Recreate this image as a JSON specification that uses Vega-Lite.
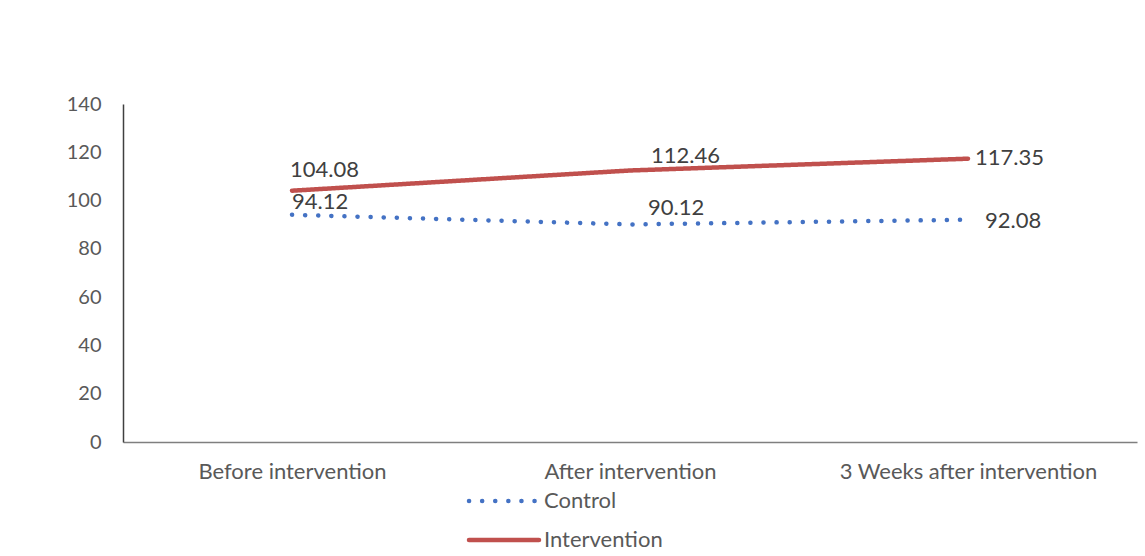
{
  "$schema": "https://vega.github.io/schema/vega-lite/v6.json",
  "autosize": {"type": "none"},
  "width": 1014,
  "height": 338,
  "padding": {"left": 123, "top": 104, "right": 8, "bottom": 114},
  "background": "white",
  "config": {
    "view": {"stroke": null},
    "font": "Lato",
    "axis": {"labelFont": "Lato", "labelColor": "#595959", "labelFontSize": 20, "grid": false, "ticks": false, "title": null}
  },
  "data": {
    "values": [
      {"time": "Before intervention", "group": "Control", "value": 94.12},
      {"time": "After intervention", "group": "Control", "value": 90.12},
      {"time": "3 Weeks after intervention", "group": "Control", "value": 92.08},
      {"time": "Before intervention", "group": "Intervention", "value": 104.08},
      {"time": "After intervention", "group": "Intervention", "value": 112.46},
      {"time": "3 Weeks after intervention", "group": "Intervention", "value": 117.35}
    ]
  },
  "encoding": {
    "x": {
      "field": "time", "type": "nominal",
      "sort": ["Before intervention", "After intervention", "3 Weeks after intervention"],
      "scale": {"type": "point", "padding": 0.5},
      "axis": {"labelAngle": 0, "labelFontSize": 22, "labelLimit": 400, "domainColor": "#7f7f7f", "domainWidth": 1.5, "labelPadding": 19}
    },
    "y": {
      "field": "value", "type": "quantitative",
      "scale": {"domain": [0, 140], "nice": false},
      "axis": {"values": [0, 20, 40, 60, 80, 100, 120, 140], "domainColor": "#404040", "domainWidth": 1.5, "labelPadding": 22}
    }
  },
  "layer": [
    {
      "mark": {"type": "line", "strokeWidth": 4.5, "strokeCap": "round"},
      "encoding": {
        "color": {
          "field": "group", "type": "nominal",
          "scale": {"domain": ["Control", "Intervention"], "range": ["#4472C4", "#C0504D"]},
          "legend": {
            "title": null, "orient": "none", "direction": "vertical",
            "legendX": 370, "legendY": 386,
            "symbolType": "M-5,0H5", "symbolSize": 196, "symbolStrokeWidth": 4.5,
            "labelFont": "Lato", "labelFontSize": 22, "labelColor": "#595959",
            "labelOffset": 29, "rowPadding": 17,
            "encode": {"symbols": {"update": {"strokeCap": {"value": "round"}, "fill": {"value": "transparent"}}}}
          }
        },
        "strokeDash": {
          "field": "group", "type": "nominal",
          "scale": {"domain": ["Control", "Intervention"], "range": [[0.1, 13], [1, 0]]},
          "legend": null
        }
      }
    },
    {
      "transform": [{"filter": "datum.time === 'Before intervention' && datum.group === 'Intervention'"}],
      "mark": {"type": "text", "align": "left", "baseline": "middle", "dx": -2, "dy": -21, "fontSize": 22, "color": "#404040"},
      "encoding": {"text": {"field": "value", "type": "quantitative", "format": ".2f"}}
    },
    {
      "transform": [{"filter": "datum.time === 'Before intervention' && datum.group === 'Control'"}],
      "mark": {"type": "text", "align": "left", "baseline": "middle", "dx": 0, "dy": -13, "fontSize": 22, "color": "#404040"},
      "encoding": {"text": {"field": "value", "type": "quantitative", "format": ".2f"}}
    },
    {
      "transform": [{"filter": "datum.time === 'After intervention' && datum.group === 'Intervention'"}],
      "mark": {"type": "text", "align": "left", "baseline": "middle", "dx": 21, "dy": -14, "fontSize": 22, "color": "#404040"},
      "encoding": {"text": {"field": "value", "type": "quantitative", "format": ".2f"}}
    },
    {
      "transform": [{"filter": "datum.time === 'After intervention' && datum.group === 'Control'"}],
      "mark": {"type": "text", "align": "left", "baseline": "middle", "dx": 18, "dy": -16, "fontSize": 22, "color": "#404040"},
      "encoding": {"text": {"field": "value", "type": "quantitative", "format": ".2f"}}
    },
    {
      "transform": [{"filter": "datum.time === '3 Weeks after intervention' && datum.group === 'Intervention'"}],
      "mark": {"type": "text", "align": "left", "baseline": "middle", "dx": 7, "dy": -1, "fontSize": 22, "color": "#404040"},
      "encoding": {"text": {"field": "value", "type": "quantitative", "format": ".2f"}}
    },
    {
      "transform": [{"filter": "datum.time === '3 Weeks after intervention' && datum.group === 'Control'"}],
      "mark": {"type": "text", "align": "left", "baseline": "middle", "dx": 17, "dy": 1, "fontSize": 22, "color": "#404040"},
      "encoding": {"text": {"field": "value", "type": "quantitative", "format": ".2f"}}
    }
  ]
}
